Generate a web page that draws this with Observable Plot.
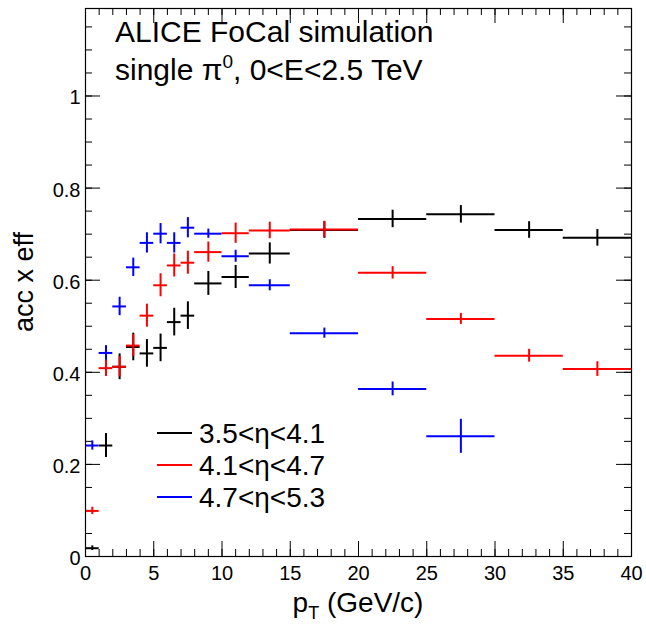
<!DOCTYPE html>
<html><head><meta charset="utf-8">
<script src="https://cdn.jsdelivr.net/npm/d3@7"></script>
<script src="https://cdn.jsdelivr.net/npm/@observablehq/plot@0.6"></script>
<style>html,body{margin:0;padding:0;background:#fff}</style>
</head><body><div id="chart"></div>
<script>
// ---- data ----
const binLo = [0, 1, 2, 3, 4, 5, 6, 7, 8, 10, 12, 15, 20, 25, 30, 35];
const binHi = [1, 2, 3, 4, 5, 6, 7, 8, 10, 12, 15, 20, 25, 30, 35, 40];

const effEta35 = [0.018, 0.241, 0.412, 0.455, 0.441, 0.453, 0.509, 0.523, 0.593, 0.607, 0.658, 0.709, 0.733, 0.743, 0.709, 0.692];
const errEta35 = [0.005, 0.026, 0.028, 0.030, 0.030, 0.030, 0.030, 0.030, 0.026, 0.025, 0.023, 0.018, 0.019, 0.019, 0.018, 0.018];

const effEta41 = [0.099, 0.409, 0.412, 0.458, 0.523, 0.589, 0.632, 0.638, 0.661, 0.702, 0.708, 0.710, 0.616, 0.516, 0.436, 0.407];
const errEta41 = [0.008, 0.018, 0.022, 0.024, 0.025, 0.025, 0.025, 0.025, 0.022, 0.022, 0.018, 0.018, 0.0135, 0.012, 0.014, 0.016];

const effEta47 = [0.241, 0.442, 0.543, 0.628, 0.681, 0.701, 0.681, 0.714, 0.701, 0.652, 0.589, 0.485, 0.364, 0.261];
const errEta47 = [0.010, 0.016, 0.020, 0.020, 0.022, 0.022, 0.022, 0.022, 0.010, 0.013, 0.012, 0.011, 0.015, 0.037];

const seriesNames = ["3.5<η<4.1", "4.1<η<4.7", "4.7<η<5.3"];
const seriesColors = ["#000000", "#ff0000", "#0000ff"];

const xMajorTicks = [0, 5, 10, 15, 20, 25, 30, 35, 40];
const xMinorTicks = [0,1,2,3,4,5,6,7,8,9,10,11,12,13,14,15,16,17,18,19,20,21,22,23,24,25,26,27,28,29,30,31,32,33,34,35,36,37,38,39,40];
const yMajorTicks = [0, 0.2, 0.4, 0.6, 0.8, 1];
const yMinorTicks = [0,0.05,0.1,0.15,0.2,0.25,0.3,0.35,0.4,0.45,0.5,0.55,0.6,0.65,0.7,0.75,0.8,0.85,0.9,0.95,1,1.05,1.1,1.15];

const titleLine1 = "ALICE FoCal simulation";
const xLabel = {main: "p", sub: "T", rest: " (GeV/c)"};
const yLabel = "acc x eff";

// ---- build table ----
const effs = [effEta35, effEta41, effEta47];
const errs = [errEta35, errEta41, errEta47];
const rows = [];
effs.forEach((vals, s) => vals.forEach((v, i) => rows.push({
  series: seriesNames[s], lo: binLo[i], hi: binHi[i], x: (binLo[i] + binHi[i]) / 2, y: v, err: errs[s][i]
})));

// ---- layout / style ----
const W = 646, H = 626;
const mL = 85, mR = 15, mT = 8, mB = 70;
const fw = W - mL - mR, fh = H - mT - mB;
const FONT = "'Liberation Sans', Arial, Helvetica, sans-serif";
const majorLen = 15, minorLen = 7;

function overlay(index, scales, values, dims) {
  const g = d3.create("svg:g").attr("font-family", FONT).attr("fill", "#000").attr("text-anchor", "start");
  const left = dims.marginLeft, top = dims.marginTop;
  const bottom = dims.height - dims.marginBottom;
  const right = dims.width - dims.marginRight;
  // title
  g.append("text").attr("x", left + 30).attr("y", top + 34).attr("font-size", 30).text(titleLine1);
  const t2 = g.append("text").attr("x", left + 30).attr("y", top + 72).attr("font-size", 30);
  t2.append("tspan").text("single π");
  t2.append("tspan").attr("font-size", 19).attr("dy", -12).text("0");
  t2.append("tspan").attr("dy", 12).text(", 0<E<2.5 TeV");
  // legend
  seriesNames.forEach((name, i) => {
    const cy = top + 425 + i * 32;
    g.append("line").attr("x1", left + 72).attr("x2", left + 107).attr("y1", cy).attr("y2", cy)
      .attr("stroke", seriesColors[i]).attr("stroke-width", 2);
    g.append("text").attr("x", left + 114).attr("y", cy).attr("dy", "0.35em").attr("font-size", 28).text(name);
  });
  // x label
  const xl = g.append("text").attr("x", (left + right) / 2).attr("y", bottom + 56)
    .attr("text-anchor", "middle").attr("font-size", 28);
  xl.append("tspan").text(xLabel.main);
  xl.append("tspan").attr("font-size", 18).attr("dy", 7).text(xLabel.sub);
  xl.append("tspan").attr("dy", -7).text(xLabel.rest);
  // y label
  g.append("text").attr("transform", `translate(${left - 52},${(top + bottom) / 2}) rotate(-90)`)
    .attr("text-anchor", "middle").attr("font-size", 27).text(yLabel);
  return g.node();
}

const chart = Plot.plot({
  width: W, height: H,
  marginLeft: mL, marginRight: mR, marginTop: mT, marginBottom: mB,
  style: {fontFamily: FONT, background: "#fff", color: "#000"},
  x: {domain: [0, 40]},
  y: {domain: [0, 1.19]},
  color: {domain: seriesNames, range: seriesColors},
  marks: [
    // ticks (inward, all four sides)
    Plot.ruleX(xMinorTicks, {x: d => d, insetTop: fh - minorLen, stroke: "#000", strokeWidth: 1}),
    Plot.ruleX(xMajorTicks, {x: d => d, insetTop: fh - majorLen, stroke: "#000", strokeWidth: 1}),
    Plot.ruleX(xMinorTicks, {x: d => d, insetBottom: fh - minorLen, stroke: "#000", strokeWidth: 1}),
    Plot.ruleX(xMajorTicks, {x: d => d, insetBottom: fh - majorLen, stroke: "#000", strokeWidth: 1}),
    Plot.ruleY(yMinorTicks, {y: d => d, insetRight: fw - minorLen, stroke: "#000", strokeWidth: 1}),
    Plot.ruleY(yMajorTicks, {y: d => d, insetRight: fw - majorLen, stroke: "#000", strokeWidth: 1}),
    Plot.ruleY(yMinorTicks, {y: d => d, insetLeft: fw - minorLen, stroke: "#000", strokeWidth: 1}),
    Plot.ruleY(yMajorTicks, {y: d => d, insetLeft: fw - majorLen, stroke: "#000", strokeWidth: 1}),
    // data: bin-width and error bars
    Plot.ruleY(rows, {y: "y", x1: "lo", x2: "hi", stroke: "series", strokeWidth: 2}),
    Plot.ruleX(rows, {x: "x", y1: d => d.y - d.err, y2: d => d.y + d.err, stroke: "series", strokeWidth: 2}),
    Plot.frame({stroke: "#000", strokeWidth: 1.2}),
    Plot.axisX({ticks: xMajorTicks, tickSize: 0, tickPadding: 9, fontSize: 20, label: null, tickFormat: d3.format("~g")}),
    Plot.axisY({ticks: yMajorTicks, tickSize: 0, tickPadding: 5, fontSize: 20, label: null, tickFormat: d3.format("~g"), dy: 2}),
    overlay
  ]
});
document.getElementById("chart").appendChild(chart);
</script>
</body></html>
